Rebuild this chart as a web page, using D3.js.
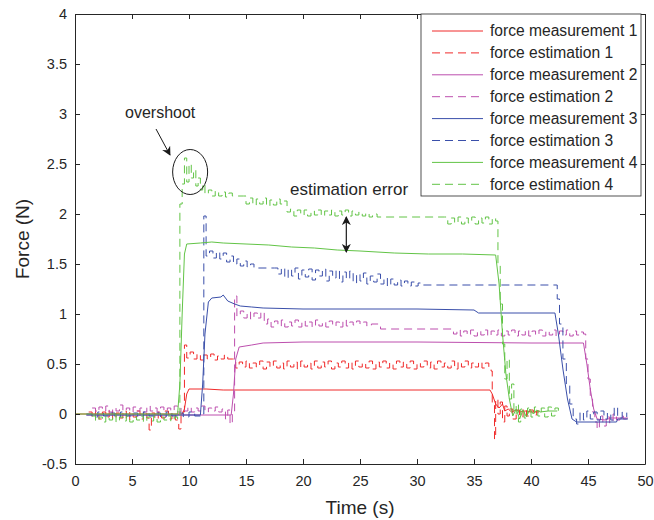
<!DOCTYPE html>
<html>
<head>
<meta charset="utf-8">
<script src="https://cdn.jsdelivr.net/npm/d3@7"></script>
<style>
  body { margin: 0; background: #fff; }
  text { font-family: "Liberation Sans", Arial, Helvetica, sans-serif; fill: #262626; }
</style>
</head>
<body>
<svg id="chart" width="654" height="520"></svg>
<script>
// tick values
const xTicks = [0, 5, 10, 15, 20, 25, 30, 35, 40, 45, 50];
const yTicks = [-0.5, 0, 0.5, 1, 1.5, 2, 2.5, 3, 3.5, 4];

const seriesNames = [
  "force measurement 1", "force estimation 1",
  "force measurement 2", "force estimation 2",
  "force measurement 3", "force estimation 3",
  "force measurement 4", "force estimation 4"
];

// [time (s), force (N)]
const meas1 = [[0,0],[9.4,0],[9.6,0.05],[9.8,0.2],[10.0,0.25],[11.5,0.25],[13.0,0.24],[20,0.24],[36.4,0.24],[36.6,0.2],[36.9,0.1],[37.2,0.06],[37.5,0.1],[37.7,0.03],[38.0,0.05],[38.3,0.02],[38.7,0.04],[39.0,0.02],[39.5,0.03],[40,0.02],[40.7,0.02]];

const est1 = [[1.2,0.02],[1.5,-0.04],[1.8,0.03],[2.1,-0.05],[2.4,0.02],[2.7,-0.03],[3.0,0.04],[3.3,-0.05],[3.6,0.01],[3.9,-0.04],[4.2,0.03],[4.5,-0.06],[4.8,0.02],[5.1,-0.03],[5.4,0.03],[5.7,-0.05],[6.0,0.02],[6.3,-0.04],[6.5,-0.16],[6.7,0.01],[7.0,-0.05],[7.3,0.02],[7.6,-0.04],[7.9,0.03],[8.2,-0.05],[8.5,0.01],[8.8,-0.06],[9.1,-0.15],[9.3,0.02],[9.6,0.69],[9.8,0.56],[10.1,0.62],[10.4,0.55],[10.7,0.6],[11.0,0.54],[11.3,0.59],[11.6,0.55],[11.9,0.6],[12.2,0.54],[12.5,0.58],[12.8,0.55],[13.1,0.59],[13.4,0.55],[13.8,0.55],[14.1,0.46],[14.4,0.52],[14.7,0.47],[15.0,0.53],[15.3,0.46],[15.6,0.51],[15.9,0.47],[16.2,0.53],[16.5,0.45],[16.8,0.52],[17.1,0.47],[17.4,0.53],[17.7,0.46],[18.0,0.51],[18.3,0.45],[18.6,0.53],[18.9,0.47],[19.2,0.52],[19.5,0.45],[19.8,0.53],[20.1,0.47],[20.4,0.51],[20.7,0.45],[21.0,0.53],[21.3,0.46],[21.6,0.52],[21.9,0.47],[22.2,0.53],[22.5,0.45],[22.8,0.51],[23.1,0.47],[23.4,0.53],[23.7,0.46],[24.0,0.52],[24.3,0.45],[24.6,0.53],[24.9,0.47],[25.2,0.51],[25.5,0.46],[25.8,0.53],[26.1,0.45],[26.4,0.52],[26.7,0.47],[27.0,0.53],[27.3,0.46],[27.6,0.51],[27.9,0.45],[28.2,0.53],[28.5,0.47],[28.8,0.52],[29.1,0.46],[29.4,0.53],[29.7,0.45],[30.0,0.51],[30.3,0.47],[30.6,0.53],[30.9,0.46],[31.2,0.52],[31.5,0.45],[31.8,0.53],[32.1,0.47],[32.4,0.51],[32.7,0.46],[33.0,0.53],[33.3,0.45],[33.6,0.52],[33.9,0.47],[34.2,0.53],[34.5,0.46],[34.8,0.51],[35.1,0.47],[35.4,0.52],[35.7,0.46],[36.0,0.51],[36.3,0.47],[36.5,0.43],[36.6,0.1],[36.8,-0.25],[36.9,0.15],[37.1,0.0],[37.3,0.12],[37.5,-0.08],[37.7,0.08],[37.9,-0.02],[38.1,0.05],[38.4,-0.05],[38.7,0.04],[39.0,-0.03],[39.3,0.05],[39.6,-0.02],[39.9,0.04],[40.2,-0.01],[40.5,0.03],[40.8,0.0]];

const meas2 = [[1,-0.01],[13.7,-0.01],[13.9,0.2],[14.1,0.55],[14.4,0.67],[15.5,0.69],[16.5,0.71],[20,0.72],[30,0.72],[40,0.71],[44.6,0.71],[44.9,0.5],[45.2,0.25],[45.5,0.05],[45.8,-0.05],[46.5,-0.06],[47,-0.04],[48.5,-0.04]];

const est2 = [[1.5,0.06],[1.8,0.02],[2.1,0.07],[2.4,0.03],[2.7,0.08],[3.0,0.02],[3.3,0.06],[3.6,0.03],[3.9,0.09],[4.2,0.03],[4.5,0.06],[4.8,0.02],[5.1,0.07],[5.4,0.03],[5.7,0.06],[6.0,0.02],[6.3,0.08],[6.6,0.03],[6.9,0.06],[7.2,0.02],[7.5,0.07],[7.8,0.03],[8.1,0.06],[8.4,0.03],[8.7,0.08],[9.0,0.02],[9.3,0.06],[9.6,0.03],[9.9,0.07],[10.2,0.02],[10.5,0.06],[10.8,0.03],[11.1,0.08],[11.4,0.02],[11.7,0.06],[12.0,0.03],[12.3,0.07],[12.6,0.02],[12.9,0.05],[13.2,-0.05],[13.4,0.04],[13.6,-0.1],[13.8,0.03],[14.0,1.18],[14.2,0.98],[14.5,1.03],[14.8,0.96],[15.1,1.02],[15.4,0.95],[15.7,1.01],[16.0,0.96],[16.3,1.02],[16.6,0.9],[16.9,0.95],[17.2,0.87],[17.5,0.93],[17.8,0.88],[18.1,0.94],[18.4,0.87],[18.7,0.92],[19.0,0.88],[19.3,0.94],[19.6,0.87],[19.9,0.93],[20.2,0.88],[20.5,0.92],[20.8,0.87],[21.1,0.94],[21.4,0.88],[21.7,0.92],[22.0,0.87],[22.3,0.93],[22.6,0.88],[22.9,0.92],[23.2,0.87],[23.5,0.94],[23.8,0.88],[24.1,0.92],[24.4,0.89],[24.7,0.93],[25.0,0.9],[25.3,0.92],[25.6,0.88],[26.0,0.9],[26.6,0.9],[26.8,0.85],[33.0,0.85],[33.2,0.8],[33.5,0.84],[33.8,0.78],[34.1,0.83],[34.4,0.79],[34.7,0.84],[35.0,0.78],[35.3,0.83],[35.6,0.79],[35.9,0.84],[36.2,0.78],[36.5,0.83],[36.8,0.79],[37.1,0.84],[37.4,0.78],[37.7,0.83],[38.0,0.79],[38.3,0.84],[38.6,0.78],[38.9,0.83],[39.2,0.79],[39.5,0.84],[39.8,0.78],[40.1,0.83],[40.4,0.79],[40.7,0.84],[41.0,0.78],[41.3,0.83],[41.6,0.79],[41.9,0.84],[42.2,0.78],[42.5,0.83],[42.8,0.79],[43.1,0.84],[43.4,0.78],[43.7,0.83],[44.0,0.79],[44.3,0.82],[44.6,0.8],[44.8,0.55],[45.0,0.35],[45.2,0.15],[45.4,0.02],[45.6,-0.08],[45.8,-0.15],[46.0,-0.02],[46.3,-0.12],[46.6,-0.03],[46.9,-0.09],[47.2,0.0],[47.5,-0.06],[47.8,-0.02],[48.1,-0.05],[48.4,-0.03]];

const meas3 = [[1,-0.01],[11.0,-0.01],[11.2,0.3],[11.4,0.8],[11.7,1.12],[12.0,1.16],[12.8,1.17],[13.0,1.19],[13.4,1.13],[14.0,1.1],[14.5,1.08],[15.5,1.07],[16.5,1.06],[20,1.05],[25,1.05],[30,1.05],[35,1.04],[35.4,1.01],[40,1.01],[42.1,1.01],[42.4,0.8],[42.8,0.45],[43.2,0.15],[43.6,-0.05],[44,-0.08],[47.5,-0.08],[47.6,-0.05],[48.5,-0.05]];

const est3 = [[1.0,0.0],[1.5,-0.03],[2.0,0.02],[2.5,-0.02],[3.0,0.01],[3.5,-0.03],[4.0,0.02],[4.5,-0.02],[5.0,0.01],[5.5,-0.03],[6.0,0.02],[6.5,-0.02],[7.0,0.01],[7.5,-0.03],[8.0,0.02],[8.5,-0.02],[9.0,0.01],[9.5,-0.03],[10.0,0.02],[10.5,-0.02],[11.0,0.0],[11.2,0.0],[11.3,1.98],[11.5,1.58],[11.8,1.63],[12.1,1.56],[12.4,1.62],[12.7,1.55],[13.0,1.61],[13.3,1.52],[13.6,1.58],[13.9,1.5],[14.2,1.55],[14.5,1.48],[14.8,1.53],[15.1,1.47],[15.4,1.5],[15.7,1.46],[17.5,1.46],[17.8,1.4],[18.1,1.46],[18.4,1.36],[18.7,1.45],[19.0,1.38],[19.3,1.46],[19.6,1.35],[19.9,1.44],[20.2,1.37],[20.5,1.45],[20.8,1.34],[21.1,1.44],[21.4,1.38],[21.7,1.45],[22.0,1.33],[22.3,1.43],[22.6,1.36],[22.9,1.44],[23.2,1.32],[23.5,1.42],[23.8,1.35],[24.1,1.43],[24.4,1.31],[24.7,1.4],[25.0,1.33],[25.3,1.41],[25.6,1.3],[25.9,1.38],[26.2,1.32],[26.5,1.4],[26.8,1.3],[27.1,1.36],[27.4,1.28],[27.7,1.35],[28.0,1.29],[28.3,1.34],[28.6,1.28],[28.9,1.33],[29.2,1.28],[29.5,1.32],[29.8,1.28],[30.1,1.31],[30.3,1.29],[42.2,1.29],[42.3,1.15],[42.5,0.9],[42.8,0.55],[43.1,0.3],[43.4,0.1],[43.7,-0.05],[44.0,-0.1],[44.3,0.02],[44.6,-0.06],[44.9,0.03],[45.2,-0.05],[45.5,0.02],[45.8,-0.06],[46.1,0.03],[46.4,-0.05],[46.7,0.01],[47.0,-0.06],[47.3,0.07],[47.6,-0.04],[48.0,0.02],[48.4,-0.03]];

const meas4 = [[0,0],[9.0,0],[9.2,0.3],[9.4,1.0],[9.6,1.6],[9.8,1.7],[11,1.71],[12,1.72],[13,1.71],[15,1.7],[17,1.69],[19,1.67],[21,1.66],[23,1.64],[25,1.63],[28,1.61],[31,1.6],[34,1.6],[36.9,1.59],[37.2,1.3],[37.5,0.8],[37.8,0.4],[38.1,0.15],[38.4,-0.02],[38.7,0.05],[39.0,-0.05],[39.3,0.04],[39.6,-0.03],[39.9,0.05],[40.2,0.0],[40.5,0.04],[40.8,0.02],[41.5,0.03],[42.3,0.03]];

const est4 = [[1.5,-0.02],[1.8,-0.07],[2.1,-0.03],[2.4,-0.08],[2.7,-0.02],[3.0,-0.06],[3.3,-0.01],[3.6,-0.08],[3.9,-0.03],[4.2,-0.07],[4.5,-0.02],[4.8,-0.08],[5.1,-0.03],[5.4,-0.06],[5.7,-0.02],[6.0,-0.08],[6.3,-0.03],[6.6,-0.07],[6.9,-0.02],[7.2,-0.08],[7.5,-0.03],[7.8,-0.06],[8.1,-0.02],[8.4,-0.07],[8.7,-0.03],[9.0,-0.05],[9.2,2.1],[9.4,2.3],[9.6,2.56],[9.8,2.32],[10.0,2.5],[10.2,2.36],[10.4,2.44],[10.6,2.28],[10.8,2.36],[11.0,2.24],[11.2,2.3],[11.4,2.2],[11.7,2.24],[12.0,2.18],[12.3,2.23],[12.6,2.18],[12.9,2.22],[13.2,2.17],[13.5,2.21],[13.8,2.18],[14.8,2.18],[15.0,2.1],[15.3,2.16],[15.6,2.09],[15.9,2.15],[16.2,2.1],[16.5,2.16],[16.8,2.08],[17.1,2.14],[17.4,2.09],[17.7,2.15],[18.0,2.1],[18.3,2.13],[18.6,2.02],[18.9,2.05],[19.2,1.98],[19.5,2.04],[19.8,1.99],[20.1,2.04],[20.4,1.98],[20.7,2.03],[21.0,1.99],[21.3,2.04],[21.6,1.98],[21.9,2.03],[22.2,1.99],[22.5,2.04],[22.8,1.98],[23.1,2.03],[23.4,1.99],[23.7,2.04],[24.0,1.98],[24.3,2.03],[24.6,1.99],[24.9,2.02],[25.2,1.98],[25.5,2.01],[25.8,1.97],[26.1,2.0],[26.5,1.97],[32.4,1.97],[32.7,1.9],[33.0,1.96],[33.3,1.91],[33.6,1.97],[33.9,1.9],[34.2,1.96],[34.5,1.91],[34.8,1.97],[35.1,1.9],[35.4,1.96],[35.7,1.91],[36.0,1.97],[36.3,1.9],[36.6,1.96],[36.9,1.93],[37.1,1.5],[37.3,1.1],[37.5,0.7],[37.7,0.35],[37.9,0.55],[38.1,0.15],[38.3,0.3],[38.5,0.0],[38.7,0.1],[38.9,-0.08],[39.1,0.05],[39.4,-0.04],[39.7,0.06],[40.0,-0.03],[40.3,0.07],[40.6,-0.02],[40.9,0.06],[41.2,-0.03],[41.5,0.07],[41.8,-0.02],[42.1,0.06],[42.4,0.0]];

const seriesData = [meas1, est1, meas2, est2, meas3, est3, meas4, est4];
const seriesColors = ["#f02a2a", "#f02a2a", "#bd4fae", "#bd4fae", "#3a4faa", "#3a4faa", "#62c446", "#62c446"];

const width = 654, height = 520;
const margin = { top: 14, right: 9, bottom: 56, left: 75 };

const svg = d3.select("#chart");

const x = d3.scaleLinear().domain([0, 50]).range([margin.left, width - margin.right]);
const y = d3.scaleLinear().domain([-0.5, 4]).range([height - margin.bottom, margin.top]);

const defs = svg.append("defs");
defs.append("clipPath").attr("id", "plot-clip")
  .append("rect")
  .attr("x", margin.left).attr("y", margin.top)
  .attr("width", width - margin.left - margin.right)
  .attr("height", height - margin.top - margin.bottom);

// arrow heads for the annotations
defs.append("marker")
  .attr("id", "head")
  .attr("viewBox", "0 0 10 10")
  .attr("refX", 9).attr("refY", 5)
  .attr("markerWidth", 9).attr("markerHeight", 9)
  .attr("markerUnits", "userSpaceOnUse")
  .attr("orient", "auto-start-reverse")
  .append("path")
  .attr("d", "M0,0 L10,5 L0,10 L3,5 Z")
  .attr("fill", "#1a1a1a");

function drawLines() {
  const line = d3.line().x(d => x(d[0])).y(d => y(d[1]));
  // the estimates are sampled signals, drawn as steps
  const stepLine = d3.line().x(d => x(d[0])).y(d => y(d[1])).curve(d3.curveStepAfter);
  const g = svg.append("g").attr("clip-path", "url(#plot-clip)");
  seriesData.forEach((data, i) => {
    const isEst = i % 2 === 1;
    g.append("path")
      .datum(data)
      .attr("d", isEst ? stepLine : line)
      .attr("fill", "none")
      .attr("stroke", seriesColors[i])
      .attr("stroke-width", 1)
      .attr("stroke-dasharray", isEst ? "8,5" : null);
  });
}

function drawAxes() {
  const axisColor = "#262626";
  const xAxis = svg.append("g")
    .attr("transform", `translate(0,${height - margin.bottom})`)
    .call(d3.axisBottom(x).tickValues(xTicks).tickFormat(d => String(d)).tickSizeInner(-5).tickSizeOuter(0).tickPadding(12));
  const yAxis = svg.append("g")
    .attr("transform", `translate(${margin.left},0)`)
    .call(d3.axisLeft(y).tickValues(yTicks).tickFormat(d => String(d)).tickSizeInner(-5).tickSizeOuter(0).tickPadding(8));
  // mirrored ticks on top and right
  const xTop = svg.append("g")
    .attr("transform", `translate(0,${margin.top})`)
    .call(d3.axisTop(x).tickValues(xTicks).tickFormat("").tickSizeInner(-5).tickSizeOuter(0));
  const yRight = svg.append("g")
    .attr("transform", `translate(${width - margin.right},0)`)
    .call(d3.axisRight(y).tickValues(yTicks).tickFormat("").tickSizeInner(-5).tickSizeOuter(0));

  [xAxis, yAxis, xTop, yRight].forEach(a => {
    a.select(".domain").attr("stroke", axisColor);
    a.selectAll(".tick line").attr("stroke", axisColor);
    a.selectAll(".tick text").attr("fill", axisColor).style("font-size", "14.5px")
      .style("font-family", '"Liberation Sans", Arial, sans-serif');
  });

  svg.append("text")
    .attr("x", (margin.left + width - margin.right) / 2)
    .attr("y", 514)
    .attr("text-anchor", "middle")
    .style("font-size", "19px")
    .text("Time (s)");

  svg.append("text")
    .attr("transform", `translate(29,${(margin.top + height - margin.bottom) / 2}) rotate(-90)`)
    .attr("text-anchor", "middle")
    .style("font-size", "19px")
    .text("Force (N)");
}

function drawLegend() {
  const lg = svg.append("g").attr("transform", "translate(421,14)");
  lg.append("rect")
    .attr("width", 220).attr("height", 182)
    .attr("fill", "#fff")
    .attr("stroke", "#262626")
    .attr("stroke-width", 0.8);
  seriesNames.forEach((name, i) => {
    const row = lg.append("g").attr("transform", `translate(0,${17 + i * 21.9})`);
    row.append("line")
      .attr("x1", 11).attr("x2", 62)
      .attr("stroke", seriesColors[i])
      .attr("stroke-width", 1)
      .attr("stroke-dasharray", i % 2 === 1 ? "8,5" : null);
    row.append("text")
      .attr("x", 69).attr("dy", "0.35em")
      .style("font-size", "15.6px")
      .text(name);
  });
}

function drawAnnotations() {
  // overshoot
  svg.append("text").attr("x", 125).attr("y", 118).style("font-size", "16px").text("overshoot");
  svg.append("line")
    .attr("x1", 156).attr("y1", 129).attr("x2", 170).attr("y2", 155)
    .attr("stroke", "#1a1a1a").attr("stroke-width", 1)
    .attr("marker-end", "url(#head)");
  svg.append("ellipse")
    .attr("cx", x(10.1)).attr("cy", y(2.42))
    .attr("rx", 17.5).attr("ry", 22.5)
    .attr("fill", "none").attr("stroke", "#1a1a1a").attr("stroke-width", 1);

  // estimation error
  svg.append("text").attr("x", 290).attr("y", 195).style("font-size", "17px").text("estimation error");
  svg.append("line")
    .attr("x1", x(23.8)).attr("y1", y(1.97))
    .attr("x2", x(23.8)).attr("y2", y(1.62))
    .attr("stroke", "#1a1a1a").attr("stroke-width", 1.2)
    .attr("marker-start", "url(#head)")
    .attr("marker-end", "url(#head)");
}

drawLines();
drawAxes();
drawAnnotations();
drawLegend();
</script>
</body>
</html>
